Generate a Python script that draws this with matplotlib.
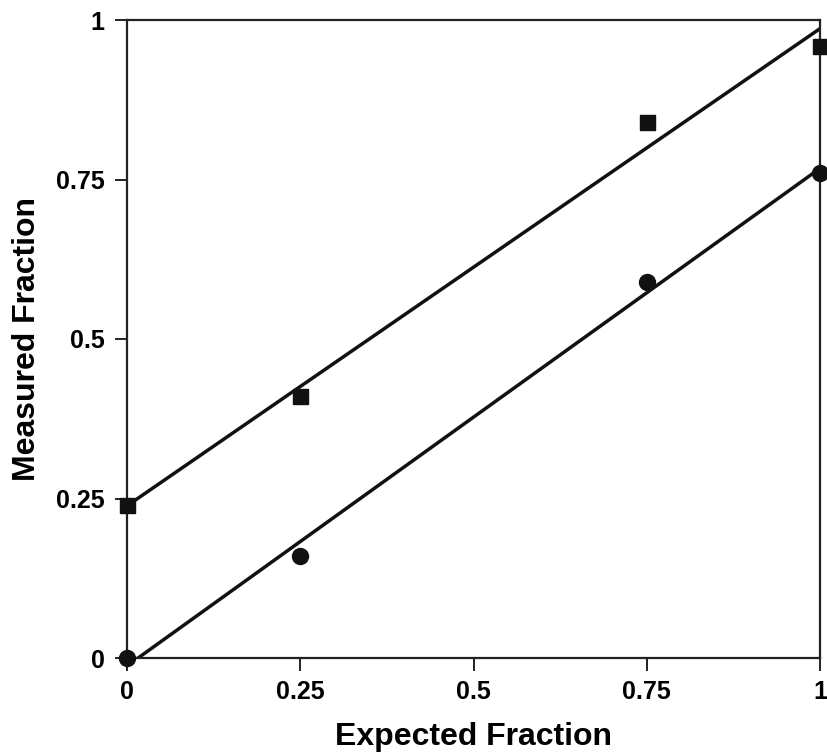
import numpy as np
import matplotlib
matplotlib.use("Agg")
import matplotlib.pyplot as plt

plt.rcParams['font.family'] = ['Liberation Sans', 'DejaVu Sans']
plt.rcParams['font.weight'] = 'bold'

expected = [0, 0.25, 0.75, 1]
measured_sq = [0.24, 0.41, 0.84, 0.96]
measured_ci = [0.0, 0.16, 0.59, 0.76]
ticks = [0, 0.25, 0.5, 0.75, 1]
tick_labels = ['0', '0.25', '0.5', '0.75', '1']

fig = plt.figure(figsize=(8.28, 7.52), dpi=100)
ax = fig.add_axes([127/828, 1-658/752, (820-127)/828, (658-20)/752])

xs = np.array([0.0, 1.0])
for ys, mk, ms in [(measured_sq, 's', 10.8), (measured_ci, 'o', 11.5)]:
    p = np.polyfit(expected, ys, 1)
    ax.plot(xs, np.polyval(p, xs), color='#111111', lw=2.5, solid_capstyle='butt', zorder=2)
    ax.plot(expected, ys, linestyle='none', marker=mk, ms=ms, color='#111111', clip_on=False, zorder=3)

ax.set_xlim(0, 1)
ax.set_ylim(0, 1)
ax.set_xticks(ticks)
ax.set_xticklabels(tick_labels)
ax.set_yticks(ticks)
ax.set_yticklabels(tick_labels)
for s in ax.spines.values():
    s.set_linewidth(1.6)
    s.set_color('#222222')
ax.tick_params(direction='out', length=9, width=1.4, color='#222222', labelsize=18, pad=7)
for lab in ax.get_xticklabels() + ax.get_yticklabels():
    lab.set_fontweight('bold')
ax.set_xlabel('Expected Fraction', fontsize=23, fontweight='bold', labelpad=13)
ax.set_ylabel('Measured Fraction', fontsize=23, fontweight='bold', labelpad=10)

fig.savefig('out.png', dpi=100)
